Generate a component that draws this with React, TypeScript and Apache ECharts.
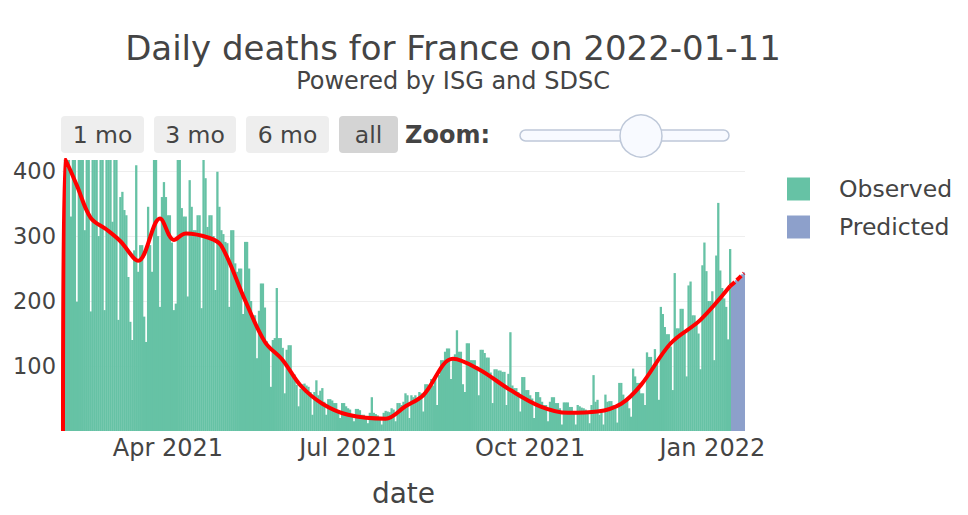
import { useEffect, useRef } from 'react'
import * as echarts from 'echarts'

const FONT = '"DejaVu Sans", Verdana, sans-serif'
const TEXT_COLOR = '#444444'

// first day of the series; one bar per day
const START_DATE = '2021-02-07'

// observed daily deaths, one row per week (Sun..Sat), 2021-02-07 .. 2022-01-10
const observedDeaths = [
  210, 440, 435, 430, 330, 425, 430,
  199, 440, 430, 425, 309, 430, 420,
  184, 430, 425, 435, 300, 430, 420,
  186, 425, 430, 420, 322, 428, 418,
  171, 360, 368, 340, 332, 237, 168,
  140, 278, 409, 245, 286, 286, 176,
  137, 345, 286, 245, 430, 430, 300,
  191, 360, 383, 360, 332, 332, 290,
  186, 196, 430, 430, 343, 330, 330,
  207, 386, 345, 309, 309, 332, 332,
  189, 430, 389, 314, 332, 332, 300,
  217, 399, 345, 309, 303, 291, 289,
  191, 309, 309, 258, 245, 250, 250,
  180, 291, 291, 250, 200, 178, 178,
  112, 185, 227, 227, 190, 138, 131,
  68, 140, 143, 220, 143, 143, 128,
  58, 125, 132, 132, 84, 87, 71,
  38, 65, 72, 73, 70, 68, 60,
  25, 60, 78, 55, 62, 66, 45,
  25, 49, 49, 47, 43, 43, 30,
  20, 43, 43, 38, 35, 33, 25,
  15, 34, 34, 32, 25, 25, 20,
  12, 28, 52, 28, 26, 24, 18,
  10, 28, 31, 30, 29, 35, 33,
  15, 43, 43, 40, 45, 58, 55,
  20, 55, 52, 55, 50, 60, 58,
  30, 72, 72, 65, 80, 70, 86,
  40, 86, 109, 109, 122, 127, 127,
  80, 112, 118, 155, 122, 122, 72,
  60, 135, 135, 109, 109, 109, 100,
  55, 125, 125, 120, 113, 113, 90,
  43, 95, 95, 93, 93, 91, 91,
  40, 88, 152, 70, 66, 66, 60,
  30, 83, 83, 63, 63, 55, 50,
  20, 60, 60, 52, 45, 40, 40,
  15, 45, 52, 52, 43, 43, 35,
  10, 44, 44, 44, 37, 37, 30,
  10, 40, 38, 36, 35, 33, 28,
  12, 40, 86, 45, 48, 25, 30,
  10, 56, 45, 46, 46, 40, 35,
  13, 74, 74, 56, 48, 48, 35,
  22, 96, 84, 74, 74, 58, 58,
  40, 121, 114, 114, 100, 126, 110,
  48, 191, 180, 160, 149, 149, 130,
  63, 243, 158, 158, 188, 188, 150,
  84, 224, 230, 178, 178, 165, 150,
  95, 255, 290, 246, 200, 200, 215,
  109, 270, 351, 247, 220, 204, 191,
  141, 280,
]

// predicted daily deaths, 2022-01-11 .. 2022-01-17
const predictedDeaths = [225, 229, 232, 235, 238, 241, 244]

// smoothed trend (red line) read at a few dates
const trendDates = [
  '2021-02-07', '2021-02-08', '2021-02-14', '2021-02-21', '2021-03-01', '2021-03-08',
  '2021-03-17', '2021-03-28', '2021-04-04', '2021-04-10', '2021-04-22', '2021-04-28',
  '2021-05-10', '2021-05-20', '2021-05-29', '2021-06-07', '2021-06-18', '2021-07-01',
  '2021-07-20', '2021-07-30', '2021-08-08', '2021-08-23', '2021-09-05', '2021-09-21',
  '2021-10-06', '2021-10-20', '2021-11-04', '2021-11-16', '2021-11-26', '2021-12-11',
  '2021-12-26', '2022-01-10',
]
const trendValues = [
  0, 420, 378, 328, 310, 292,
  262, 327, 294, 304, 297, 285,
  201, 137, 109, 70, 42, 25,
  19, 38, 55, 111, 95, 63,
  38, 28, 30, 42, 71, 135,
  171, 223,
]

// trend over the prediction window (dashed)
const forecastDates = ['2022-01-10', '2022-01-13', '2022-01-17']
const forecastValues = [223, 231, 243]

const xTickDates = ['2021-04-01', '2021-07-01', '2021-10-01', '2022-01-01']
const xTickLabels = ['Apr 2021', 'Jul 2021', 'Oct 2021', 'Jan 2022']

const rangeButtons = ['1 mo', '3 mo', '6 mo', 'all']

function buildDates(start: string, count: number) {
  const t0 = Date.parse(start + 'T00:00:00Z')
  const out: string[] = []
  for (let i = 0; i < count; i++) {
    out.push(new Date(t0 + i * 86400000).toISOString().slice(0, 10))
  }
  return out
}

export default function App() {
  const chartRef = useRef<HTMLDivElement>(null)

  useEffect(() => {
    if (!chartRef.current) return
    const chart = echarts.init(chartRef.current, undefined, { renderer: 'svg' })

    const dates = buildDates(START_DATE, observedDeaths.length + predictedDeaths.length)
    const observedData = [...observedDeaths, ...predictedDeaths.map(() => '-')]
    const predictedData = [...observedDeaths.map(() => '-'), ...predictedDeaths]

    // range selector buttons
    const buttonBoxes = [
      { x: 61, w: 83 },
      { x: 154, w: 82 },
      { x: 246, w: 83 },
      { x: 339, w: 59 },
    ]
    const buttonGraphics = rangeButtons.map((label, i) => ({
      type: 'group',
      children: [
        {
          type: 'rect',
          shape: { x: buttonBoxes[i].x, y: 116, width: buttonBoxes[i].w, height: 37, r: 4 },
          style: { fill: label === 'all' ? '#d4d4d4' : '#eeeeee' },
        },
        {
          type: 'text',
          x: buttonBoxes[i].x + buttonBoxes[i].w / 2,
          y: 134.5,
          style: {
            text: label,
            fill: TEXT_COLOR,
            fontSize: 23.5,
            fontFamily: FONT,
            textAlign: 'center',
            textVerticalAlign: 'middle',
          },
        },
      ],
    }))

    const option: any = {
      animation: false,
      textStyle: { fontFamily: FONT },
      grid: { left: 62, right: 223, top: 160, bottom: 84, outerBoundsMode: 'none' },
      legend: {
        data: ['Observed', 'Predicted'],
        orient: 'vertical',
        left: 787,
        top: 177,
        padding: 0,
        itemWidth: 23,
        itemHeight: 23,
        itemGap: 14,
        icon: 'rect',
        selectedMode: false,
        textStyle: {
          fontSize: 23.5,
          color: TEXT_COLOR,
          fontFamily: FONT,
          lineHeight: 23,
          padding: [0, 0, 0, 24],
        },
      },
      xAxis: {
        type: 'category',
        data: dates,
        name: 'date',
        nameLocation: 'middle',
        nameGap: 48,
        nameTextStyle: { fontSize: 28, color: TEXT_COLOR, fontFamily: FONT },
        axisLine: { show: false },
        axisTick: { show: false },
        axisLabel: {
          interval: (_idx: number, value: string) => xTickDates.includes(value),
          formatter: (value: string) => {
            const k = xTickDates.indexOf(value)
            return k >= 0 ? xTickLabels[k] : ''
          },
          fontSize: 24,
          color: TEXT_COLOR,
          fontFamily: FONT,
          margin: 5,
        },
        splitLine: { show: false },
      },
      yAxis: {
        type: 'value',
        min: 0,
        max: 417,
        interval: 100,
        axisLine: { show: false },
        axisTick: { show: false },
        axisLabel: {
          formatter: (v: number) => (v > 0 && v % 100 === 0 ? String(v) : ''),
          fontSize: 22.5,
          color: TEXT_COLOR,
          fontFamily: FONT,
          margin: 6,
        },
        splitLine: {
          lineStyle: { color: '#eeeeee', width: 1.2 },
          showMinLine: false,
          showMaxLine: false,
        },
      },
      series: [
        {
          name: 'Observed',
          type: 'bar',
          data: observedData,
          barGap: '-100%',
          barWidth: 2.3,
          itemStyle: { color: '#66c2a5' },
          clip: true,
        },
        {
          name: 'Predicted',
          type: 'bar',
          data: predictedData,
          barGap: '-100%',
          barWidth: 2.3,
          itemStyle: { color: '#8da0cb' },
          clip: true,
        },
        {
          name: 'Trend',
          type: 'line',
          data: trendDates.map((d, i) => [d, trendValues[i]]),
          smooth: 0.35,
          showSymbol: false,
          clip: true,
          lineStyle: { color: '#ff0000', width: 4 },
          z: 5,
        },
        {
          name: 'Trend forecast',
          type: 'line',
          data: forecastDates.map((d, i) => [d, forecastValues[i]]),
          smooth: 0.3,
          showSymbol: false,
          clip: true,
          lineStyle: { color: '#ff0000', width: 4, type: [6, 3] },
          z: 5,
        },
      ],
      graphic: [
        {
          type: 'text',
          x: 453,
          y: 48,
          style: {
            text: 'Daily deaths for France on 2022-01-11',
            fill: TEXT_COLOR,
            fontSize: 34,
            fontFamily: FONT,
            textAlign: 'center',
            textVerticalAlign: 'middle',
          },
        },
        {
          type: 'text',
          x: 453,
          y: 81,
          style: {
            text: 'Powered by ISG and SDSC',
            fill: TEXT_COLOR,
            fontSize: 24,
            fontFamily: FONT,
            textAlign: 'center',
            textVerticalAlign: 'middle',
          },
        },
        ...buttonGraphics,
        {
          type: 'text',
          x: 405,
          y: 134.5,
          style: {
            text: 'Zoom:',
            fill: TEXT_COLOR,
            fontSize: 24,
            fontWeight: 'bold',
            fontFamily: FONT,
            textAlign: 'left',
            textVerticalAlign: 'middle',
          },
        },
        {
          type: 'rect',
          shape: { x: 520, y: 130, width: 209, height: 11, r: 5.5 },
          style: { fill: '#f8faff', stroke: '#bec8d9', lineWidth: 1.5 },
        },
        {
          type: 'circle',
          shape: { cx: 641, cy: 136, r: 21 },
          style: { fill: '#f8faff', stroke: '#bec8d9', lineWidth: 1.5 },
        },
      ],
    }

    chart.setOption(option)

    return () => {
      chart.dispose()
    }
  }, [])

  return (
    <div
      ref={chartRef}
      style={{ position: 'fixed', left: 0, top: 0, width: '968px', height: '515px', background: '#ffffff' }}
    />
  )
}
